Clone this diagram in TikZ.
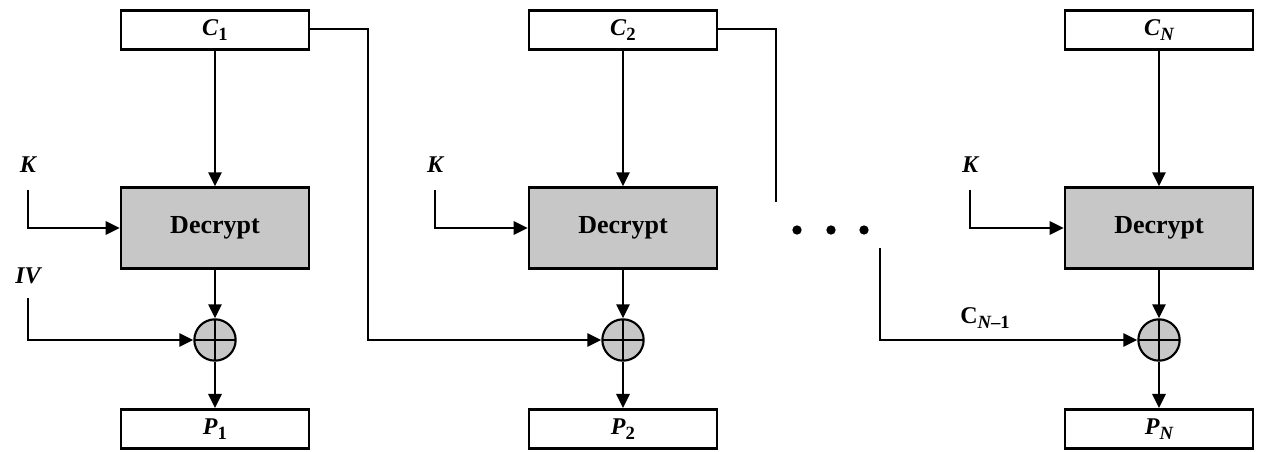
\documentclass[tikz,border=0pt]{standalone}
\usepackage{fontspec}
\setmainfont{Liberation Serif}
\usetikzlibrary{arrows.meta}
\newcommand\mysub[1]{\raisebox{-0.45ex}{\fontsize{14}{14}\selectfont\bfseries #1}}
\tikzset{
  io/.style={draw, line width=2.1pt, minimum width=141pt, minimum height=29.5pt, inner sep=0pt, font=\fontsize{18}{18}\selectfont\bfseries},
  dec/.style={draw, line width=2.1pt, fill=black!22, minimum width=141pt, minimum height=60.5pt, inner sep=0pt, font=\fontsize{19.5}{19.5}\selectfont\bfseries},
  xorn/.style={draw, circle, line width=1.6pt, fill=black!22, minimum size=31pt, inner sep=0pt,
    path picture={\draw[line width=1.4pt] (path picture bounding box.north) -- (path picture bounding box.south)
      (path picture bounding box.west) -- (path picture bounding box.east);}},
  lbl/.style={inner sep=0pt, font=\fontsize{18}{18}\selectfont\bfseries\itshape},
  conn/.style={line width=1.6pt},
  arr/.style={conn, -{Triangle[length=10.5pt,width=10pt]}},
  dot/.style={circle, fill=black, inner sep=0pt, minimum size=7pt}
}
\begin{document}
\begin{tikzpicture}[x=0.75pt,y=-0.75pt]
\useasboundingbox (0,0) rectangle (1262,452);
% column 1
\node[io] (C1) at (215,30) {\textit{C}\mysub{1}};
\node[dec] (D1) at (215,228) {Decrypt};
\node[xorn] (X1) at (215,340) {};
\node[io] (P1) at (215,429) {\textit{P}\mysub{1}};
\node[lbl] (K1) at (28,165) {K};
\node[lbl] (IV) at (28,276) {IV};
\coordinate (k1s) at (28,190);
\coordinate (iv1s) at (28,298);
% column 2
\node[io] (C2) at (623,30) {\textit{C}\mysub{2}};
\node[dec] (D2) at (623,228) {Decrypt};
\node[xorn] (X2) at (623,340) {};
\node[io] (P2) at (623,429) {\textit{P}\mysub{2}};
\node[lbl] (K2) at (435,165) {K};
\coordinate (k2s) at (435,190);
% column 3
\node[io] (CN) at (1159,30) {\textit{C}\mysub{\itshape N}};
\node[dec] (D3) at (1159,228) {Decrypt};
\node[xorn] (X3) at (1159,340) {};
\node[io] (PN) at (1159,429) {\textit{P}\mysub{\itshape N}};
\node[lbl] (K3) at (970,165) {K};
\coordinate (k3s) at (970,190);
% dots
\node[dot] (d1) at (797,230) {};
\node[dot] (d2) at (831,230) {};
\node[dot] (d3) at (864,230) {};
% feedback coordinates
\coordinate (f1) at (368,29);
\coordinate (f2) at (776,29);
\coordinate (f2e) at (776,202);
\coordinate (f3s) at (880,248);
\node[inner sep=0pt, font=\fontsize{18}{18}\selectfont\bfseries] (CNm1) at (985,318) {C\mysub{\itshape N\upshape\bfseries--1}};
% connectors column 1
\draw[arr] (C1) -- (D1);
\draw[arr] (D1) -- (X1);
\draw[arr] (X1) -- (P1);
\draw[arr] (k1s) |- (D1.west);
\draw[arr] (iv1s) |- (X1.west);
\draw[arr] (C1.east |- f1) -- (f1) |- (X2.west);
% column 2
\draw[arr] (C2) -- (D2);
\draw[arr] (D2) -- (X2);
\draw[arr] (X2) -- (P2);
\draw[arr] (k2s) |- (D2.west);
\draw[conn] (C2.east |- f2) -- (f2) -- (f2e);
% column 3
\draw[arr] (CN) -- (D3);
\draw[arr] (D3) -- (X3);
\draw[arr] (X3) -- (PN);
\draw[arr] (k3s) |- (D3.west);
\draw[arr] (f3s) |- (X3.west);
\end{tikzpicture}
\end{document}
